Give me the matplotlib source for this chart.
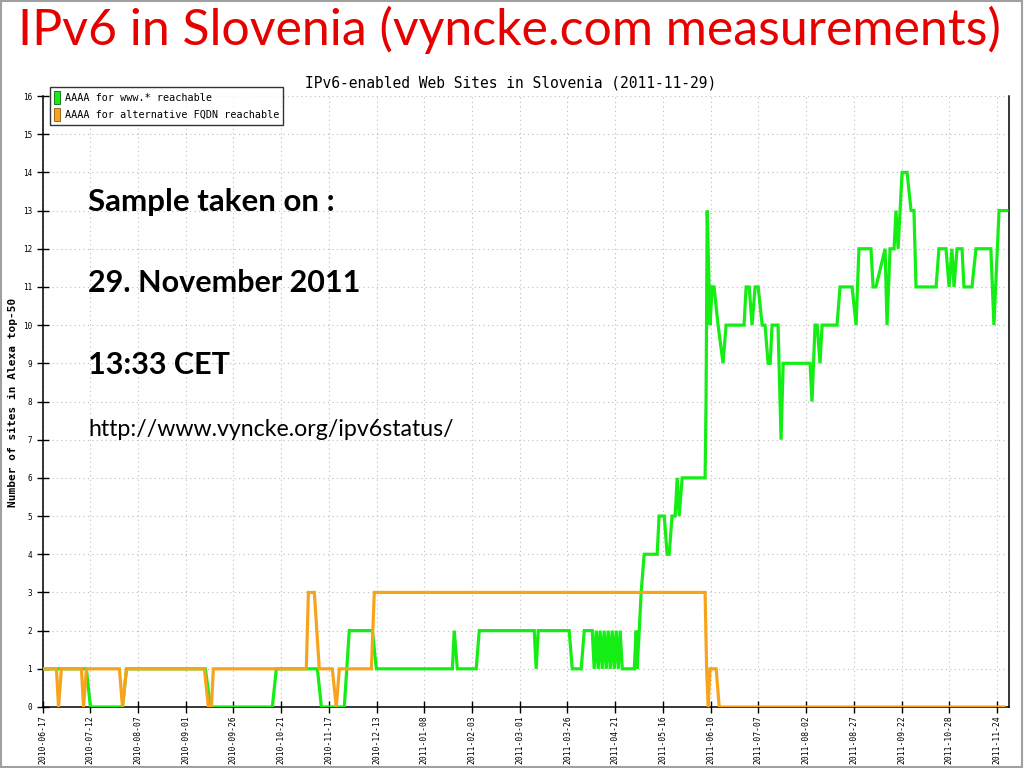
import matplotlib.pyplot as plt
from matplotlib.patches import Patch, Rectangle


# x = sample day offset from 2010-06-17 (as spaced on the original chart)
www_x = [0, 23.0, 25.1, 41.9, 44.0, 85.3, 88.0, 120.4, 122.5, 144.0, 146.1, 158.1, 160.7,
         172.8, 174.9, 214.7, 215.7, 217.3, 227.2, 228.8, 257.6, 258.6, 259.7, 275.9, 277.5,
         282.2, 283.8, 288.0, 289.0, 290.1, 291.1, 292.1, 293.2, 294.2, 295.3, 296.3, 297.4,
         298.4, 299.5, 300.5, 301.6, 302.6, 303.7, 310.0, 311.0, 311.5, 312.6, 313.6, 315.2,
         322.0, 323.0, 325.7, 327.2, 328.3, 329.8, 331.4, 332.5, 333.5, 335.1, 347.1, 347.6,
         348.2, 349.2, 349.7, 350.8, 351.8, 353.9, 356.5, 358.1, 367.5, 368.6, 370.2, 371.7,
         373.3, 374.9, 377.0, 378.5, 380.1, 381.2, 382.2, 385.3, 386.9, 388.0, 402.1, 403.1,
         404.7, 405.8, 407.3, 408.4, 416.2, 417.8, 424.1, 426.2, 427.7, 434.0, 435.1, 436.6,
         441.4, 442.4, 444.0, 446.1, 447.1, 448.2, 450.3, 452.9, 455.0, 456.5, 457.6, 468.1,
         469.6, 473.3, 474.9, 476.4, 477.5, 479.1, 481.7, 482.7, 486.9, 489.0, 496.8, 498.4,
         501.1, 505.2]
www_y = [1, 1, 0, 0, 1, 1, 0, 0, 1, 1, 0, 0, 2,
         2, 1, 1, 2, 1, 1, 2, 2, 1, 2, 2, 1,
         1, 2, 2, 1, 2, 1, 2, 1, 2, 1, 2, 1,
         2, 1, 2, 1, 2, 1, 1, 2, 1, 2, 3, 4,
         4, 5, 5, 4, 4, 5, 5, 6, 5, 6, 6, 8,
         13, 11, 10, 11, 11, 10, 9, 10, 10, 11, 11, 10,
         11, 11, 10, 10, 9, 9, 10, 10, 7, 9, 9, 8,
         10, 10, 9, 10, 10, 11, 11, 10, 12, 12, 11, 11,
         12, 10, 12, 12, 13, 12, 14, 14, 13, 13, 11, 11,
         12, 12, 11, 12, 11, 12, 12, 11, 11, 12, 12, 10,
         13, 13]

alt_x = [0, 7.3, 8.4, 9.9, 20.4, 21.5, 23.0, 40.3, 41.9, 44.0, 84.8, 86.9, 88.5, 89.5,
         138.2, 139.3, 142.4, 145.0, 151.8, 153.9, 155.5, 172.3, 173.8, 347.1, 347.9,
         348.7, 349.7, 352.9, 354.5, 503.7]
alt_y = [1, 1, 0, 1, 1, 0, 1, 1, 0, 1, 1, 0, 0, 1,
         1, 3, 3, 1, 1, 0, 1, 1, 3, 3, 1,
         0, 1, 1, 0, 0]

tick_labels = ["2010-06-17", "2010-07-12", "2010-08-07", "2010-09-01", "2010-09-26",
               "2010-10-21", "2010-11-17", "2010-12-13", "2011-01-08", "2011-02-03",
               "2011-03-01", "2011-03-26", "2011-04-21", "2011-05-16", "2011-06-10",
               "2011-07-07", "2011-08-02", "2011-08-27", "2011-09-22", "2011-10-28",
               "2011-11-24"]

green = "#14ee14"
orange = "#f7a41d"
mono = "DejaVu Sans Mono"

fig = plt.figure(figsize=(10.24, 7.68), dpi=100)
W, H = 1024, 768


def fx(px):
    return px / W


def fy(py):
    return 1 - py / H


ax = fig.add_axes([fx(42.5), fy(707), fx(1009) - fx(42.5), fy(96) - fy(707)])

ax.plot(www_x, www_y, color=green, lw=2.3, solid_joinstyle="miter", zorder=3)
ax.plot(alt_x, alt_y, color=orange, lw=2.3, solid_joinstyle="miter", zorder=4)

ax.set_xlim(0, 506.3)
ax.set_ylim(0, 16)
ax.set_yticks(range(0, 17))
ax.set_xticks([25 * i for i in range(len(tick_labels))])
ax.set_xticklabels(tick_labels, rotation=90, fontfamily=mono, fontsize=5.8)
ax.set_yticklabels([str(i) for i in range(0, 17)], fontfamily=mono, fontsize=5.5)
ax.tick_params(axis="both", direction="inout", length=9, width=1, pad=3)
ax.tick_params(axis="x", pad=1.5)
ax.grid(True, color="#bdbdbd", linestyle=(0, (1, 3)), lw=0.8)
ax.spines["top"].set_visible(False)
for s in ["left", "bottom", "right"]:
    ax.spines[s].set_linewidth(1.1)

fig.text(fx(13), fy(402), "Number of sites in Alexa top-50", rotation=90,
         ha="center", va="center", fontfamily=mono, fontweight="bold", fontsize=8)
fig.text(fx(511), fy(83), "IPv6-enabled Web Sites in Slovenia (2011-11-29)",
         ha="center", va="center", fontfamily=mono, fontsize=10.5)

handles = [Patch(facecolor=green, edgecolor="#116611", lw=0.6),
           Patch(facecolor=orange, edgecolor="#885511", lw=0.6)]
leg = fig.legend(handles, ["AAAA for www.* reachable", "AAAA for alternative FQDN reachable"],
                 loc="upper left", bbox_to_anchor=(fx(50), fy(87)),
                 prop={"family": mono, "size": 7.3}, frameon=True, fancybox=False,
                 handlelength=0.6, handleheight=1.6, handletextpad=0.45,
                 borderpad=0.4, labelspacing=0.35, borderaxespad=0)
leg.get_frame().set_edgecolor("black")
leg.get_frame().set_linewidth(1)

# slide title and notes
fig.text(fx(18), fy(30), "IPv6 in Slovenia (vyncke.com measurements)", color="#e60000",
         fontfamily="Lato", fontsize=36, ha="left", va="center")
fig.text(fx(88), fy(202), "Sample taken on :", fontfamily="Lato", fontweight="bold",
         fontsize=22.5, ha="left", va="center")
fig.text(fx(88), fy(283), "29. November 2011", fontfamily="Lato", fontweight="bold",
         fontsize=22, ha="left", va="center")
fig.text(fx(88), fy(365), "13:33 CET", fontfamily="Lato", fontweight="bold",
         fontsize=22, ha="left", va="center")
fig.text(fx(88), fy(430), "http://www.vyncke.org/ipv6status/", fontfamily="Lato",
         fontsize=16.7, ha="left", va="center")

fig.patches.append(Rectangle((0.001, 0.001), 0.997, 0.998, transform=fig.transFigure,
                             fill=False, edgecolor="#a0a0a0", lw=1.5))

fig.savefig("out.png", dpi=100)
